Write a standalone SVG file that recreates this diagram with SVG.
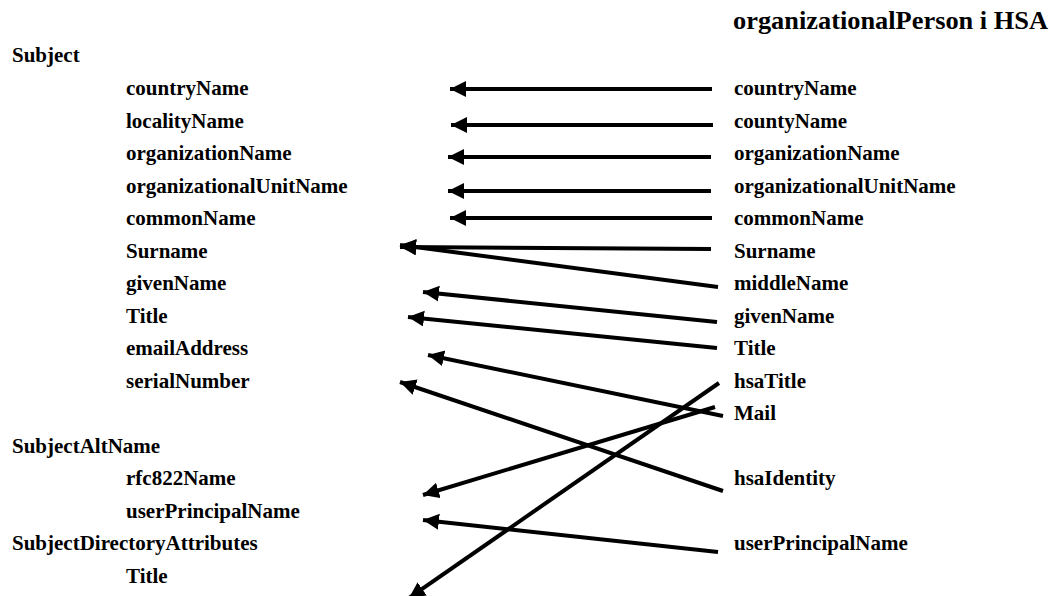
<svg xmlns="http://www.w3.org/2000/svg" width="1052" height="596" viewBox="0 0 1052 596">
<style>
text{font-family:"Liberation Serif","Times New Roman",serif;font-weight:bold;font-size:21px;fill:#000}
.title{font-size:25px}
.conn line{stroke:#000;stroke-width:4;marker-end:url(#ah)}
</style>
<defs>
<marker id="ah" markerUnits="userSpaceOnUse" markerWidth="18" markerHeight="18" refX="16" refY="8" orient="auto">
<path d="M0,0 L16,8 L0,16 Z" fill="#000"/>
</marker>
</defs>
<rect width="1052" height="596" fill="#fff"/>
<g id="title"><text class="title" x="733" y="29" textLength="315" lengthAdjust="spacingAndGlyphs">organizationalPerson i HSA</text></g>
<g id="left">
<g id="l-subject"><text x="12" y="62">Subject</text></g>
<g id="l-countryName"><text x="126" y="95">countryName</text></g>
<g id="l-localityName"><text x="126" y="127.5">localityName</text></g>
<g id="l-organizationName"><text x="126" y="160">organizationName</text></g>
<g id="l-organizationalUnitName"><text x="126" y="192.5">organizationalUnitName</text></g>
<g id="l-commonName"><text x="126" y="225">commonName</text></g>
<g id="l-surname"><text x="126" y="257.5">Surname</text></g>
<g id="l-givenName"><text x="126" y="290">givenName</text></g>
<g id="l-title"><text x="126" y="322.5">Title</text></g>
<g id="l-emailAddress"><text x="126" y="355">emailAddress</text></g>
<g id="l-serialNumber"><text x="126" y="387.5">serialNumber</text></g>
<g id="l-subjectAltName"><text x="12" y="453">SubjectAltName</text></g>
<g id="l-rfc822Name"><text x="126" y="485">rfc822Name</text></g>
<g id="l-userPrincipalName"><text x="126" y="518">userPrincipalName</text></g>
<g id="l-sda"><text x="12" y="550">SubjectDirectoryAttributes</text></g>
<g id="l-sda-title"><text x="126" y="583">Title</text></g>
</g>
<g id="right">
<g id="r-countryName"><text x="734" y="95">countryName</text></g>
<g id="r-countyName"><text x="734" y="127.5">countyName</text></g>
<g id="r-organizationName"><text x="734" y="160">organizationName</text></g>
<g id="r-organizationalUnitName"><text x="734" y="192.5">organizationalUnitName</text></g>
<g id="r-commonName"><text x="734" y="225">commonName</text></g>
<g id="r-surname"><text x="734" y="257.5">Surname</text></g>
<g id="r-middleName"><text x="734" y="290">middleName</text></g>
<g id="r-givenName"><text x="734" y="322.5">givenName</text></g>
<g id="r-title"><text x="734" y="355">Title</text></g>
<g id="r-hsaTitle"><text x="734" y="387.5">hsaTitle</text></g>
<g id="r-mail"><text x="734" y="420">Mail</text></g>
<g id="r-hsaIdentity"><text x="734" y="485">hsaIdentity</text></g>
<g id="r-userPrincipalName"><text x="734" y="550">userPrincipalName</text></g>
</g>
<g id="connectors" class="conn">
<line x1="712" y1="89" x2="450" y2="89"/>
<line x1="713" y1="125" x2="451" y2="125"/>
<line x1="711" y1="157" x2="448" y2="157"/>
<line x1="711" y1="191" x2="448" y2="191"/>
<line x1="712" y1="218" x2="450" y2="218"/>
<line x1="711" y1="249" x2="400" y2="247"/>
<line x1="718" y1="287" x2="400" y2="245"/>
<line x1="717" y1="322" x2="423" y2="292"/>
<line x1="717" y1="348" x2="408" y2="317"/>
<line x1="723" y1="416" x2="428" y2="355"/>
<line x1="723" y1="491" x2="400" y2="382"/>
<line x1="715" y1="407" x2="423" y2="495"/>
<line x1="719" y1="383" x2="409" y2="598"/>
<line x1="718" y1="552" x2="423" y2="520"/>
</g>
</svg>
